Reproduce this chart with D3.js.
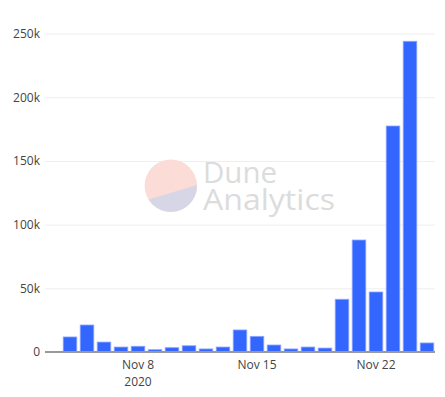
<!DOCTYPE html>
<html>
<head>
<meta charset="utf-8">
<script src="https://cdn.jsdelivr.net/npm/d3@7"></script>
<style>
  body { margin: 0; background: #fff; }
  text { font-family: "Open Sans", sans-serif; }
</style>
</head>
<body>
<div id="chart"></div>
<script>
// daily values, Nov 3 .. Nov 25 2020
const days = [
  "2020-11-03", "2020-11-04", "2020-11-05", "2020-11-06", "2020-11-07", "2020-11-08",
  "2020-11-09", "2020-11-10", "2020-11-11", "2020-11-12", "2020-11-13", "2020-11-14",
  "2020-11-15", "2020-11-16", "2020-11-17", "2020-11-18", "2020-11-19", "2020-11-20",
  "2020-11-21", "2020-11-22", "2020-11-23", "2020-11-24", "2020-11-25"
];
const values = [
  0, 11800, 21200, 7800, 3900, 4500,
  1800, 3400, 4900, 2400, 3900, 17300,
  12300, 5500, 2400, 3900, 3100, 41400,
  87900, 47100, 177400, 243900, 7100
];
const yTicks = [0, 50000, 100000, 150000, 200000, 250000];
const xTicks = ["2020-11-08", "2020-11-15", "2020-11-22"];
const xTickLabels = [["Nov 8", "2020"], ["Nov 15"], ["Nov 22"]];

const width = 445, height = 397;
const margin = { top: 20, right: 10, bottom: 45, left: 45 };

const svg = d3.select("#chart")
  .append("svg")
  .attr("width", width)
  .attr("height", height);

const x = d3.scaleBand()
  .domain(days)
  .range([44.5, 435.5])
  .paddingInner(0.2)
  .paddingOuter(0.1);

const y = d3.scaleLinear()
  .domain([0, 250000])
  .range([352, 33.5]);

// grid + y labels
svg.append("g")
  .attr("transform", `translate(${margin.left},0)`)
  .call(d3.axisLeft(y)
    .tickValues(yTicks)
    .tickSize(-(width - margin.left - margin.right))
    .tickPadding(5)
    .tickFormat(d => d === 0 ? "0" : d / 1000 + "k"))
  .call(g => g.select(".domain").remove())
  .call(g => g.selectAll("line").attr("stroke", "#eee"))
  .call(g => g.selectAll("text").attr("fill", "#444").attr("font-size", 12));

// watermark
const wm = svg.append("g").attr("class", "watermark");
const cx = 170.8, cy = 185.7, r = 26.2;
wm.append("circle")
  .attr("cx", cx).attr("cy", cy).attr("r", r)
  .attr("fill", "#fcdcd6");
const a0 = -1.5 * Math.PI / 180, a1 = 148 * Math.PI / 180;
wm.append("path")
  .attr("fill", "#d7d6e6")
  .attr("d", `M${cx + r * Math.cos(a0)},${cy + r * Math.sin(a0)}` +
    `A${r},${r} 0 0 1 ${cx + r * Math.cos(a1)},${cy + r * Math.sin(a1)}Z`);
wm.append("text")
  .attr("x", 203).attr("y", 183)
  .attr("font-size", 30)
  .attr("fill", "#dcdcdc")
  .attr("textLength", 74)
  .attr("lengthAdjust", "spacingAndGlyphs")
  .text("Dune");
wm.append("text")
  .attr("x", 203).attr("y", 210)
  .attr("font-size", 30)
  .attr("fill", "#dcdcdc")
  .attr("textLength", 132)
  .attr("lengthAdjust", "spacingAndGlyphs")
  .text("Analytics");

// bars
svg.append("g")
  .selectAll("rect")
  .data(days.map((d, i) => ({ day: d, value: values[i] })).filter(d => d.value > 0))
  .enter()
  .append("rect")
  .attr("x", d => x(d.day))
  .attr("y", d => y(d.value))
  .attr("width", x.bandwidth())
  .attr("height", d => y(0) - y(d.value))
  .attr("fill", "#3366ff")
  .attr("stroke", "#8fa6ff")
  .attr("stroke-width", 0.8);

// zero line
svg.append("line")
  .attr("x1", margin.left).attr("x2", width - margin.right)
  .attr("y1", y(0)).attr("y2", y(0))
  .attr("stroke", "#999")
  .attr("stroke-width", 2);

// x labels
const xAxis = svg.append("g")
  .attr("transform", `translate(0,${y(0)})`)
  .call(d3.axisBottom(x)
    .tickValues(xTicks)
    .tickSize(0)
    .tickFormat(d => xTickLabels[xTicks.indexOf(d)][0]))
  .call(g => g.select(".domain").remove());

xAxis.selectAll(".tick text")
  .attr("fill", "#444")
  .attr("font-size", 12)
  .attr("dy", null)
  .attr("y", 16.5);

// second line (year) under the first tick
xAxis.selectAll(".tick")
  .filter(d => xTickLabels[xTicks.indexOf(d)].length > 1)
  .append("text")
  .attr("fill", "#444")
  .attr("font-size", 12)
  .attr("y", 33.5)
  .text(d => xTickLabels[xTicks.indexOf(d)][1]);
</script>
</body>
</html>
